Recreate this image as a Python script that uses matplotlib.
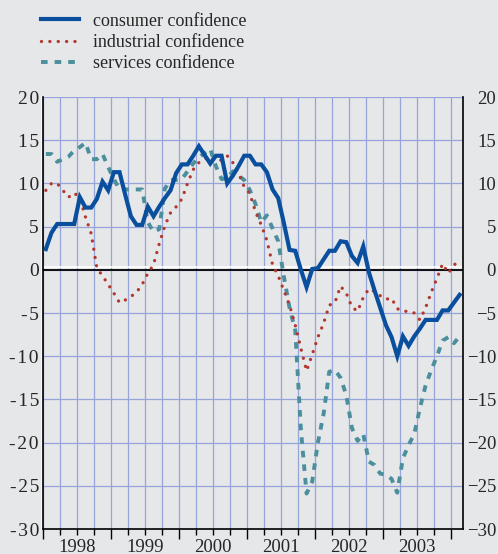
import numpy as np
import matplotlib
matplotlib.use("Agg")
from matplotlib import pyplot as plt
from matplotlib.transforms import blended_transform_factory

# monthly values, Jan 1998 .. Feb 2004
consumer = [2.4, 4.3, 5.3, 5.3, 5.3, 5.3, 8.4, 7.2, 7.2, 8.2,
            10.2, 9.2, 11.3, 11.3, 8.7, 6.2, 5.2, 5.2, 7.3, 6.2,
            7.3, 8.3, 9.2, 11.2, 12.2, 12.2, 13.2, 14.3, 13.3, 12.3,
            13.2, 13.2, 10.0, 10.9, 12.0, 13.2, 13.2, 12.2, 12.2, 11.3,
            9.3, 8.3, 5.4, 2.3, 2.2, 0.0, -2.0, 0.1, 0.2, 1.2,
            2.2, 2.2, 3.3, 3.2, 1.6, 0.8, 2.7, -0.3, -2.4, -4.4,
            -6.4, -7.8, -10.0, -7.7, -8.8, -7.7, -6.8, -5.8, -5.8, -5.8,
            -4.7, -4.7, -3.8, -2.9]
industrial = [9.2, 10.0, 10.0, 9.2, 8.4, 8.9, 8.3, 6.1, 4.2, 0.2,
              -0.7, -1.7, -2.7, -3.8, -3.5, -3.1, -2.6, -1.7, -0.4, 0.6,
              3.0, 5.1, 6.6, 7.3, 8.2, 10.0, 11.6, 12.4, 12.8, 13.1,
              12.6, 12.7, 13.2, 12.4, 11.2, 9.6, 8.8, 6.7, 5.2, 3.4,
              0.6, -0.7, -2.4, -4.1, -6.4, -9.1, -11.7, -9.8, -7.8, -6.2,
              -4.1, -3.8, -1.9, -2.7, -4.3, -4.8, -3.2, -2.2, -2.5, -3.0,
              -3.4, -3.3, -4.5, -4.8, -4.8, -5.0, -5.8, -4.4, -2.6, -1.0,
              0.7, -0.4, 0.5, 1.3]
services = [13.4, 13.4, 12.5, 12.8, 13.1, 13.8, 14.2, 14.7, 12.8, 12.8,
            13.4, 11.9, 10.5, 9.3, 9.3, 9.3, 9.3, 9.3, 5.5, 4.4,
            4.7, 9.4, 10.4, 10.4, 10.5, 11.4, 12.3, 13.0, 13.5, 14.0,
            12.0, 10.5, 10.6, 11.4, 10.9, 10.4, 9.2, 7.6, 5.5, 6.3,
            4.8, 3.3, -0.8, -4.4, -7.0, -18.5, -25.9, -24.5, -20.0, -16.7,
            -11.8, -11.6, -12.5, -14.5, -18.3, -19.8, -19.0, -22.2, -22.6, -23.6,
            -23.7, -24.2, -25.8, -21.8, -20.3, -19.0, -16.0, -13.4, -11.6, -10.0,
            -8.2, -7.8, -8.5, -7.7]
years = ["1998", "1999", "2000", "2001", "2002", "2003"]
yticks = [-30, -25, -20, -15, -10, -5, 0, 5, 10, 15, 20]

bg = "#e6e7e9"
grid_col = "#95a5da"
text_col = "#262626"
plt.rcParams["font.family"] = ["Liberation Serif", "DejaVu Serif"]
plt.rcParams["font.size"] = 13

W, H = 498, 554
fig = plt.figure(figsize=(W / 100, H / 100), dpi=100, facecolor=bg)
ax = fig.add_axes([43 / W, 1 - 529 / H, 420 / W, 432 / H])
ax.set_facecolor(bg)

x = np.arange(len(consumer)) + 0.5
ax.set_xlim(0, 74.1)
ax.set_ylim(-30, 20)

# grid: quarters vertically, every 5 points horizontally
ax.set_xticks(np.arange(0, 73, 12))
ax.set_xticks(np.arange(0, 75, 3), minor=True)
ax.set_xticklabels([])
ax.set_yticks(yticks)
# left labels are set a little wider in the original
ax.set_yticklabels(["\u200a".join(str(v)) for v in yticks])
ax.grid(True, which="both", axis="x", color=grid_col, lw=0.9)
ax.grid(True, which="major", axis="y", color=grid_col, lw=0.9)
ax.set_axisbelow(True)
ax.tick_params(axis="x", which="major", length=7, width=1, color="black", direction="out")
ax.tick_params(axis="x", which="minor", length=4, width=1, color="black", direction="out")
ax.tick_params(axis="y", length=0, pad=2.9, labelcolor=text_col, labelsize=14)

for side in ["left", "right", "bottom"]:
    ax.spines[side].set_color("black")
    ax.spines[side].set_linewidth(1.2)
ax.spines["top"].set_visible(False)

# right hand labels
ax2 = ax.twinx()
ax2.set_ylim(-30, 20)
ax2.set_yticks(yticks)
ax2.tick_params(axis="y", length=0, pad=23.8, labelcolor=text_col, labelsize=13.5)
for lab in ax2.get_yticklabels():
    lab.set_horizontalalignment("right")
for side in ["left", "right", "bottom", "top"]:
    ax2.spines[side].set_visible(False)

# zero line with light edge
ax.axhline(0.3, color="white", lw=1.2, zorder=2)
ax.axhline(0, color="black", lw=1.3, zorder=2.1)
ax.axvline(-0.25, color="white", lw=1.2, clip_on=False, zorder=2)

l3, = ax.plot(x, services, color="#4b8f9d", lw=2.8, linestyle=(0, (1.7, 1.8)),
              dash_capstyle="butt", zorder=3, label="services confidence")
l2, = ax.plot(x, industrial, color="#b3372e", lw=2.4, linestyle=(0, (0.01, 2.5)),
              dash_capstyle="round", zorder=4, label="industrial confidence")
l1, = ax.plot(x, consumer, color="#0a4f9d", lw=3.0, solid_joinstyle="miter",
              zorder=5, label="consumer confidence")

trans = blended_transform_factory(ax.transData, ax.transAxes)
for i, yr in enumerate(years):
    ax.text(12 * i + 6, -18 / 432, yr, transform=trans, ha="center", va="center",
            color=text_col, fontsize=13.5)

ax.legend(handles=[l1, l2, l3], loc="upper left",
          bbox_to_anchor=(41 / W, 1 - 12.5 / H), bbox_transform=fig.transFigure,
          frameon=False, handlelength=2.1, handletextpad=0.78, labelspacing=0.24,
          borderaxespad=0, borderpad=0, fontsize=13, labelcolor=text_col)

fig.savefig("out.png", dpi=100, facecolor=bg)
